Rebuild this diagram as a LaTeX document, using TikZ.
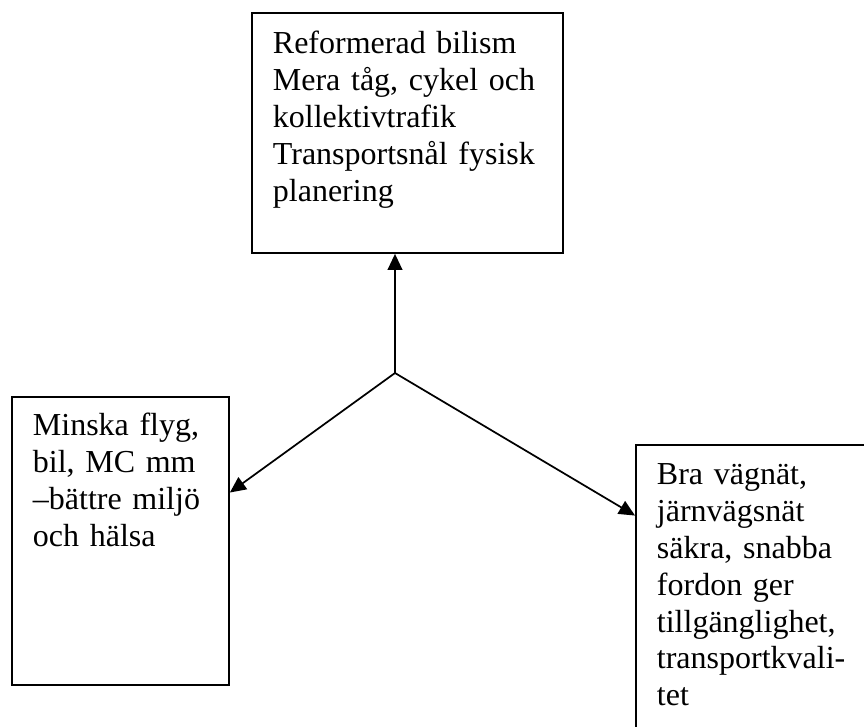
\documentclass[tikz,border=0pt]{standalone}
\usepackage{fontspec}
\setmainfont{Liberation Serif}
\usepackage{tikz}
\usetikzlibrary{arrows.meta,positioning,calc}
\tikzset{
  goalbox/.style={draw=black, line width=1.4pt, anchor=north west, align=left,
    inner xsep=15.75pt, inner ysep=0pt, font=\fontsize{24}{27.6}\selectfont},
  flow/.style={-{Triangle[length=12pt,width=11pt]}, line width=1.3pt},
}
\begin{document}
\begin{tikzpicture}[x=0.75pt,y=-0.75pt]
  \useasboundingbox (0,0) rectangle (864,726);
  \clip (0,0) rectangle (864,726);
  % the three goals
  \node[goalbox, text width=201.75pt, text height=30.75pt, text depth=149.25pt] (top) at (251,12)
    {Reformerad bilism\\Mera tåg, cykel och\\kollektivtrafik\\Transportsnål fysisk\\planering};
  \node[goalbox, text width=131.25pt, text height=29.25pt, text depth=186.75pt] (left) at (11,396)
    {Minska flyg,\\bil, MC mm\\–bättre miljö\\och hälsa};
  \node[goalbox, text width=163.5pt, text height=30pt, text depth=195pt] (right) at (635,444)
    {Bra vägnät,\\järnvägsnät\\säkra, snabba\\fordon ger\\tillgänglighet,\\transportkvali-\\tet};
  % arrows out of the fork
  \coordinate (hub) at (395,373);
  \draw[flow] (hub) -- (hub |- top.south);
  \draw[flow] (hub) -- ($(left.north east)!0.333!(left.south east)$);
  \draw[flow] (hub) -- ($(right.north west)!0.237!(right.south west)$);
\end{tikzpicture}
\end{document}
